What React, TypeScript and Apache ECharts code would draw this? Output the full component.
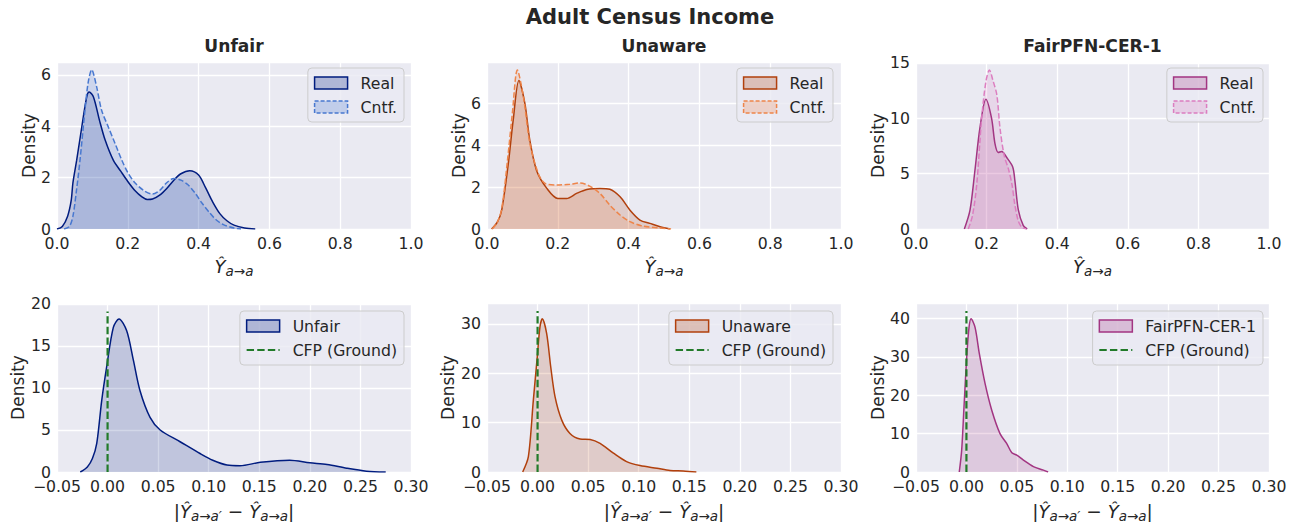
import React, { useEffect, useRef } from "react";
import * as echarts from "echarts";

const FONT = "DejaVu Sans";
const TEXT = "#262626";
const BG = "#eaeaf2";

const SUPTITLE = "Adult Census Income";
const PANEL_TITLES = ["Unfair", "Unaware", "FairPFN-CER-1"];
const SERIES_REAL = "Real";
const SERIES_CNTF = "Cntf.";
const SERIES_CFP = "CFP (Ground)";

// colours
const DARK = ["#001c7f", "#b1400d", "#a23582"];
const LIGHT = ["#4878d0", "#ee854a", "#dc7ec0"];
const GREEN = "#217a29";

// axis ranges / ticks
const TOP_X = { min: 0, max: 1, interval: 0.2 };
const BOT_X = { min: -0.05, max: 0.3, interval: 0.05 };
const TOP_Y_MAX = [6.5, 7.98, 15.07];
const TOP_Y_INTERVAL = [2, 2, 5];
const BOT_Y_MAX = [20.1, 34.2, 44.0];
const BOT_Y_INTERVAL = [5, 10, 10];
const CFP_X = 0;
const CFP_TOP = [19.1, 32.6, 41.9];

// ---- Top row: predictions Ŷ_{a→a} densities ----
// Unfair
const unfairRealX = [0.0, 0.015, 0.03, 0.04, 0.045, 0.0556, 0.07, 0.084, 0.091, 0.103, 0.12, 0.136, 0.159, 0.18, 0.2, 0.22, 0.24, 0.255, 0.27, 0.29, 0.31, 0.33, 0.35, 0.375, 0.4, 0.42, 0.44, 0.46, 0.48, 0.5, 0.53, 0.56];
const unfairRealY = [0, 0.1, 0.5, 1.1, 1.8, 2.68, 3.97, 5.14, 5.33, 5.14, 4.23, 3.46, 2.68, 2.25, 1.85, 1.5, 1.25, 1.15, 1.17, 1.32, 1.58, 1.9, 2.15, 2.27, 2.1, 1.6, 1.05, 0.6, 0.32, 0.15, 0.04, 0];
const unfairCntfX = [0.02, 0.035, 0.045, 0.055, 0.065, 0.079, 0.088, 0.098, 0.112, 0.126, 0.145, 0.164, 0.183, 0.2, 0.22, 0.245, 0.27, 0.29, 0.31, 0.33, 0.35, 0.37, 0.39, 0.41, 0.43, 0.45, 0.47, 0.5, 0.52];
const unfairCntfY = [0, 0.1, 0.5, 1.5, 2.68, 4.62, 5.7, 6.2, 5.53, 4.62, 3.97, 3.33, 2.68, 2.2, 1.8, 1.5, 1.36, 1.5, 1.8, 1.97, 1.9, 1.72, 1.4, 1.0, 0.65, 0.35, 0.17, 0.04, 0];
// Unaware
const unawareRealX = [0.013, 0.03, 0.0415, 0.06, 0.074, 0.09, 0.107, 0.121, 0.14, 0.169, 0.2, 0.225, 0.253, 0.282, 0.319, 0.347, 0.376, 0.404, 0.432, 0.46, 0.489, 0.517];
const unawareRealY = [0, 0.35, 0.9, 3.1, 5.2, 7.1, 6.0, 4.24, 2.8, 1.94, 1.46, 1.46, 1.7, 1.89, 1.94, 1.9, 1.54, 0.9, 0.43, 0.27, 0.11, 0];
const unawareCntfX = [0.015, 0.03, 0.042, 0.058, 0.072, 0.0857, 0.103, 0.121, 0.145, 0.164, 0.197, 0.234, 0.263, 0.29, 0.319, 0.347, 0.376, 0.404, 0.44, 0.49, 0.52];
const unawareCntfY = [0, 0.35, 1.0, 3.3, 5.6, 7.6, 6.3, 4.1, 2.65, 2.18, 2.1, 2.14, 2.2, 2.05, 1.7, 1.14, 0.67, 0.35, 0.14, 0.05, 0];
// FairPFN-CER-1
const fairRealX = [0.137, 0.153, 0.167, 0.181, 0.198, 0.214, 0.224, 0.233, 0.243, 0.257, 0.274, 0.28, 0.29, 0.304, 0.315];
const fairRealY = [0, 1.7, 5.3, 9.1, 11.7, 10.0, 7.65, 6.9, 7.0, 6.45, 5.6, 4.4, 1.7, 0.3, 0];
const fairCntfX = [0.148, 0.16, 0.172, 0.186, 0.198, 0.208, 0.218, 0.229, 0.238, 0.25, 0.262, 0.272, 0.28, 0.29, 0.3, 0.312];
const fairCntfY = [0, 1.2, 4.0, 10.0, 13.3, 14.35, 13.4, 12.1, 9.1, 6.6, 5.4, 4.0, 2.2, 0.7, 0.15, 0];

// ---- Bottom row: |Ŷ_{a→a'} − Ŷ_{a→a}| densities ----
const unfairDiffX = [-0.027, -0.02, -0.015, -0.0107, -0.0058, -0.0009, 0.0057, 0.0113, 0.0189, 0.0255, 0.032, 0.042, 0.052, 0.0717, 0.0914, 0.104, 0.118, 0.131, 0.151, 0.18, 0.2, 0.217, 0.2365, 0.256, 0.275];
const unfairDiffY = [0, 0.6, 1.6, 3.4, 8.5, 12.5, 17.2, 18.2, 16.8, 13.3, 9.7, 6.5, 5.0, 3.6, 2.2, 1.4, 0.83, 0.75, 1.15, 1.4, 1.1, 0.9, 0.45, 0.1, 0];
const unawareDiffX = [-0.0147, -0.0091, -0.0042, -0.0003, 0.0024, 0.0047, 0.009, 0.013, 0.0173, 0.0239, 0.032, 0.042, 0.052, 0.0618, 0.075, 0.088, 0.1013, 0.118, 0.131, 0.144, 0.157];
const unawareDiffY = [0, 3.1, 14.5, 23.3, 29.4, 31.0, 28.0, 21.3, 15.2, 10.5, 7.8, 6.7, 6.6, 5.8, 3.8, 2.1, 1.3, 0.75, 0.3, 0.2, 0];
const fairDiffX = [-0.0071, -0.0047, -0.0024, 0.0003, 0.0026, 0.0046, 0.0085, 0.0128, 0.0185, 0.0251, 0.0333, 0.04, 0.045, 0.0499, 0.0565, 0.0664, 0.0763, 0.081];
const fairDiffY = [0, 5.7, 17, 30, 37.7, 39.9, 37.7, 30.8, 23, 16.1, 10, 7.4, 5.0, 4.4, 3.1, 1.4, 0.5, 0];

const TOP_REAL = [[unfairRealX, unfairRealY], [unawareRealX, unawareRealY], [fairRealX, fairRealY]];
const TOP_CNTF = [[unfairCntfX, unfairCntfY], [unawareCntfX, unawareCntfY], [fairCntfX, fairCntfY]];
const BOT_DIFF = [[unfairDiffX, unfairDiffY], [unawareDiffX, unawareDiffY], [fairDiffX, fairDiffY]];

// layout
const GRID_LEFT = [57, 487, 916];
const GRID_WIDTH = [354, 354, 353];
const ROW_TOP = [62, 303];
const ROW_HEIGHT = [167, 169];
const LEGEND_RIGHT = [896, 467, 37];
const LEGEND_TOP = [68, 311];
const YNAME_GAP = [[20, 20, 30], [31, 31, 30]];

function rgba(hex: string, a: number) {
  const r = parseInt(hex.slice(1, 3), 16);
  const g = parseInt(hex.slice(3, 5), 16);
  const b = parseInt(hex.slice(5, 7), 16);
  return `rgba(${r},${g},${b},${a})`;
}

const TICK_FS = 15.7;
const LABEL_FS = 17.1;

const nameRich = {
  n: { fontFamily: FONT, fontSize: 18.5, color: TEXT },
  y: { fontFamily: FONT, fontSize: 18, color: TEXT, fontStyle: "italic" },
  s: { fontFamily: FONT, fontSize: 13.5, color: TEXT, fontStyle: "italic", padding: [9, 0, 0, 0] },
};
const TOP_XNAME = "{y|Ŷ}{s|a→a}";
const BOT_XNAME = "{n||}{y|Ŷ}{s|a→a′}{n| − }{y|Ŷ}{s|a→a}{n||}";

const DASH_ICON = "path://M0,0h7.4v2.2h-7.4z M10.6,0h7.4v2.2h-7.4z M21.2,0h7.4v2.2h-7.4z M31.8,0h1.2v2.2h-1.2z";

function fmtTop(v: number) {
  return (Math.round(v * 10) / 10).toFixed(1);
}
function fmtBot(v: number) {
  const r = Math.round(v * 100) / 100;
  return (r < 0 ? "\u2212" : "") + Math.abs(r).toFixed(2);
}

function buildOption() {
  const grid: any[] = [];
  const xAxis: any[] = [];
  const yAxis: any[] = [];
  const series: any[] = [];
  const legend: any[] = [];
  const title: any[] = [
    {
      text: SUPTITLE,
      left: 650,
      textAlign: "center",
      top: 6,
      padding: 0,
      textStyle: { fontFamily: FONT, fontSize: 21, fontWeight: "bold", color: TEXT },
    },
  ];

  for (let row = 0; row < 2; row++) {
    for (let col = 0; col < 3; col++) {
      const idx = row * 3 + col;
      grid.push({
        left: GRID_LEFT[col],
        top: ROW_TOP[row],
        width: GRID_WIDTH[col],
        height: ROW_HEIGHT[row],
        show: true,
        backgroundColor: BG,
        borderWidth: 0,
      });
      const xr = row === 0 ? TOP_X : BOT_X;
      xAxis.push({
        type: "value",
        gridIndex: idx,
        min: xr.min,
        max: xr.max,
        interval: xr.interval,
        axisLine: { show: false },
        axisTick: { show: false },
        splitLine: { show: true, lineStyle: { color: "#ffffff", width: 1.3 } },
        axisLabel: {
          color: TEXT,
          fontFamily: FONT,
          fontSize: TICK_FS,
          lineHeight: 15,
          margin: 7,
          formatter: row === 0 ? fmtTop : fmtBot,
        },
        name: row === 0 ? TOP_XNAME : BOT_XNAME,
        nameLocation: "middle",
        nameGap: row === 0 ? 26 : 28,
        nameTextStyle: { rich: nameRich, color: TEXT, fontFamily: FONT, fontSize: 18 },
      });
      yAxis.push({
        type: "value",
        gridIndex: idx,
        min: 0,
        max: row === 0 ? TOP_Y_MAX[col] : BOT_Y_MAX[col],
        interval: row === 0 ? TOP_Y_INTERVAL[col] : BOT_Y_INTERVAL[col],
        axisLine: { show: false },
        axisTick: { show: false },
        splitLine: { show: true, lineStyle: { color: "#ffffff", width: 1.3 } },
        axisLabel: {
          color: TEXT,
          fontFamily: FONT,
          fontSize: TICK_FS,
          lineHeight: 13,
          margin: 6,
          showMaxLabel: false,
          formatter: (v: number) => String(Math.round(v)),
        },
        name: "Density",
        nameLocation: "middle",
        nameGap: YNAME_GAP[row][col],
        nameTextStyle: { color: TEXT, fontFamily: FONT, fontSize: LABEL_FS },
      });

      const legendCommon = {
        orient: "vertical",
        right: LEGEND_RIGHT[col],
        top: LEGEND_TOP[row],
        selectedMode: false,
        backgroundColor: "rgba(234,234,242,0.8)",
        borderColor: "#cccccc",
        borderWidth: 1,
        borderRadius: 4,
        padding: [7, 7, 7, 6],
        itemGap: 8,
        itemWidth: 33,
        itemHeight: 12,
        textStyle: { color: TEXT, fontFamily: FONT, fontSize: TICK_FS, lineHeight: 16, padding: [0, 0, 0, 8] },
      };

      if (row === 0) {
        title.push({
          text: PANEL_TITLES[col],
          left: GRID_LEFT[col] + GRID_WIDTH[col] / 2,
          textAlign: "center",
          top: 37,
          padding: 0,
          textStyle: { fontFamily: FONT, fontSize: LABEL_FS, fontWeight: "bold", color: TEXT },
        });
        const [rx, ry] = TOP_REAL[col];
        const [cx, cy] = TOP_CNTF[col];
        series.push({
          type: "line",
          name: SERIES_REAL,
          xAxisIndex: idx,
          yAxisIndex: idx,
          data: rx.map((x, k) => [x, ry[k]]),
          symbol: "none",
          smooth: 0.3,
          silent: true,
          lineStyle: { color: DARK[col], width: 1.5 },
          itemStyle: { color: DARK[col] },
          areaStyle: { color: rgba(DARK[col], 0.25) },
        });
        series.push({
          type: "line",
          name: SERIES_CNTF,
          xAxisIndex: idx,
          yAxisIndex: idx,
          data: cx.map((x, k) => [x, cy[k]]),
          symbol: "none",
          smooth: 0.3,
          silent: true,
          lineStyle: { color: LIGHT[col], width: 1.5, type: [5.5, 2.4] },
          itemStyle: { color: LIGHT[col] },
          areaStyle: { color: rgba(LIGHT[col], 0.25) },
        });
        legend.push({
          ...legendCommon,
          data: [
            {
              name: SERIES_REAL,
              icon: "rect",
              itemStyle: { color: rgba(DARK[col], 0.25), borderColor: DARK[col], borderWidth: 1.5, borderType: "solid" },
            },
            {
              name: SERIES_CNTF,
              icon: "rect",
              itemStyle: { color: rgba(LIGHT[col], 0.25), borderColor: LIGHT[col], borderWidth: 1.5, borderType: [4, 2] },
            },
          ],
        });
      } else {
        const [dx, dy] = BOT_DIFF[col];
        series.push({
          type: "line",
          name: PANEL_TITLES[col],
          xAxisIndex: idx,
          yAxisIndex: idx,
          data: dx.map((x, k) => [x, dy[k]]),
          symbol: "none",
          smooth: 0.3,
          silent: true,
          lineStyle: { color: DARK[col], width: 1.5 },
          itemStyle: { color: DARK[col] },
          areaStyle: { color: rgba(DARK[col], 0.25) },
        });
        series.push({
          type: "line",
          name: SERIES_CFP,
          xAxisIndex: idx,
          yAxisIndex: idx,
          data: [
            [CFP_X, 0],
            [CFP_X, CFP_TOP[col]],
          ],
          symbol: "none",
          silent: true,
          lineStyle: { color: GREEN, width: 2.2, type: [7.4, 3.2] },
          itemStyle: { color: GREEN },
          z: 5,
        });
        legend.push({
          ...legendCommon,
          data: [
            {
              name: PANEL_TITLES[col],
              icon: "rect",
              itemStyle: { color: rgba(DARK[col], 0.25), borderColor: DARK[col], borderWidth: 1.5, borderType: "solid" },
            },
            {
              name: SERIES_CFP,
              icon: DASH_ICON,
              itemStyle: { color: GREEN, borderWidth: 0 },
            },
          ],
        });
      }
    }
  }

  return {
    animation: false,
    backgroundColor: "#ffffff",
    textStyle: { fontFamily: FONT },
    title,
    grid,
    xAxis,
    yAxis,
    legend,
    series,
  };
}

export default function App() {
  const ref = useRef<HTMLDivElement>(null);
  useEffect(() => {
    if (!ref.current) return;
    const chart = echarts.init(ref.current, undefined, { renderer: "svg" });
    chart.setOption(buildOption() as any);
    return () => chart.dispose();
  }, []);
  return (
    <div
      ref={ref}
      style={{ position: "absolute", left: 0, top: 0, width: 1300, height: 529 }}
    />
  );
}
